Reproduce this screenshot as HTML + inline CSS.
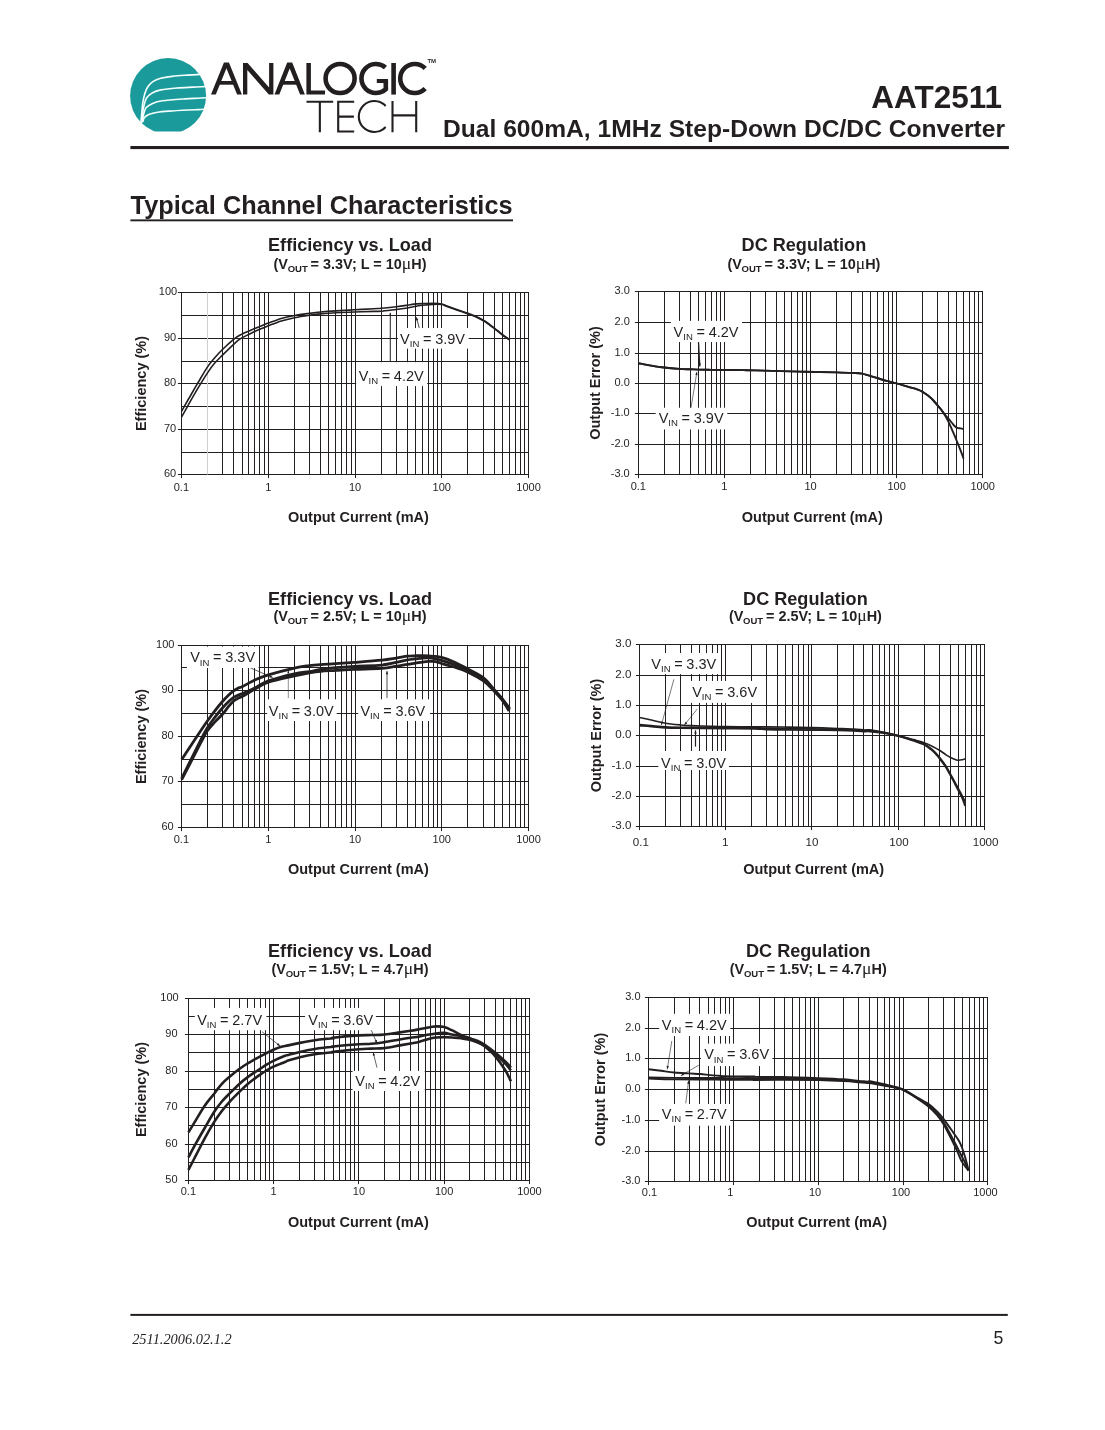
<!DOCTYPE html>
<html lang="en">
<head>
<meta charset="utf-8">
<title>AAT2511 - Typical Channel Characteristics</title>
<style>
html,body{margin:0;padding:0;background:#fff;}
body{width:1105px;height:1430px;overflow:hidden;font-family:"Liberation Sans",sans-serif;color:#231f20;}
svg{display:block;position:absolute;left:0;top:0;will-change:transform;}
text{fill:#231f20;}
</style>
</head>
<body>
<svg width="1105" height="1430" viewBox="0 0 1105 1430">
<g id="logo">
<clipPath id="discclip"><rect x="120" y="50" width="100" height="81.4"/></clipPath>
<circle cx="168.1" cy="96" r="38" fill="#1a9a9b" clip-path="url(#discclip)"/>
<clipPath id="discclip2"><circle cx="168.1" cy="96" r="38.6"/></clipPath>
<g fill="none" stroke="#f4ffff" stroke-width="1.6" stroke-linecap="butt" clip-path="url(#discclip2)">
<path d="M140.85,123.63 C140.99,122.08 141.34,117.79 141.66,114.34 C141.99,110.89 142.29,106.39 142.81,102.94 C143.32,99.49 143.89,96.40 144.76,93.66 C145.63,90.91 146.66,88.50 148.02,86.49 C149.38,84.48 150.79,82.96 152.90,81.60 C155.02,80.24 157.52,79.21 160.72,78.34 C163.93,77.47 168.05,76.90 172.13,76.39 C176.20,75.87 180.49,75.57 185.16,75.25 C189.83,74.92 197.65,74.57 200.14,74.43"/>
<path d="M141.50,122.98 C141.72,121.13 142.32,115.10 142.81,111.90 C143.29,108.70 143.76,106.14 144.43,103.75 C145.11,101.37 145.52,99.41 146.88,97.56 C148.23,95.72 150.27,93.95 152.58,92.68 C154.89,91.40 156.65,90.70 160.72,89.91 C164.80,89.12 171.58,88.42 177.01,87.95 C182.44,87.49 188.42,87.38 193.30,87.14 C198.19,86.90 204.16,86.60 206.33,86.49"/>
<path d="M142.15,122.32 C142.40,120.99 142.97,116.76 143.62,114.34 C144.27,111.93 144.57,109.65 146.06,107.83 C147.56,106.01 149.86,104.60 152.58,103.43 C155.29,102.26 156.92,101.58 162.35,100.82 C167.78,100.06 179.18,99.30 185.16,98.87 C191.13,98.43 194.52,98.43 198.19,98.22 C201.85,98.00 205.65,97.67 207.15,97.56"/>
<path d="M142.97,121.67 C143.21,120.99 143.38,118.82 144.43,117.60 C145.49,116.38 147.15,115.24 149.32,114.34 C151.49,113.45 154.21,112.77 157.47,112.23 C160.72,111.68 163.71,111.46 168.87,111.08 C174.03,110.70 183.53,110.19 188.42,109.94 C193.30,109.70 195.47,109.73 198.19,109.62 C200.90,109.51 203.62,109.35 204.70,109.29"/>
</g>
<g fill="#231f20" stroke="none">
<path d="M211.00,94.6 L223.95,62.6 L228.95,62.6 L241.90,94.6 L237.10,94.6 L226.45,68.28 L215.80,94.6 Z"/>
<rect x="218.81" y="81.0" width="15.29" height="3.70"/>
<path d="M243.0,94.6 L243.0,63.0 L247.6,63.0 L269.09999999999997,87.6 L269.09999999999997,63.0 L273.4,63.0 L273.4,94.6 L268.79999999999995,94.6 L247.3,70.0 L247.3,94.6 Z"/>
<path d="M274.50,94.6 L287.20,62.6 L292.20,62.6 L304.90,94.6 L300.10,94.6 L289.70,68.40 L279.30,94.6 Z"/>
<rect x="282.23" y="81.0" width="14.94" height="3.70"/>
<path d="M306.4,63.0 L310.9,63.0 L310.9,90.6 L325.0,90.6 L325.0,94.6 L306.4,94.6 Z"/>
<rect x="391.3" y="63.0" width="4.6" height="31.60"/>
</g>
<g fill="none" stroke="#231f20" stroke-width="4.6">
<circle cx="340.1" cy="78.5" r="14.5"/>
<path d="M385.46,67.56 A14.5,14.5 0 1 0 385.93,89.02 L385.80,87.02 L385.80,81.00" stroke-linejoin="round"/>
<path d="M376.80,81.00 L388.05,81.00" stroke-width="4.0"/>
<path d="M425.18,68.43 A14.5,14.5 0 1 0 425.18,88.57"/>
</g>
<text x="427.40" y="62.70" font-family="Liberation Sans, sans-serif" font-size="6.0" font-weight="bold" text-anchor="start" >TM</text>
<g fill="none" stroke="#231f20" stroke-width="2.1">
<path d="M306.5,101.75 L333.2,101.75 M319.85,101.75 L319.85,132.2"/>
<path d="M354.2,101.75 L338.2,101.75 L338.2,131.45 L354.2,131.45 M338.2,116.6 L353.9,116.6"/>
<path d="M385.64,105.93 A15.5,15.5 0 1 0 385.64,127.07"/>
<path d="M392.5,101.0 L392.5,132.2 M416.2,101.0 L416.2,132.2 M392.5,115.4 L416.2,115.4"/>
</g>
</g>
<text x="1002.00" y="108.30" font-family="Liberation Sans, sans-serif" font-size="31.5" font-weight="bold" text-anchor="end" >AAT2511</text>
<text x="1005.00" y="137.30" font-family="Liberation Sans, sans-serif" font-size="24.62" font-weight="bold" text-anchor="end" >Dual 600mA, 1MHz Step-Down DC/DC Converter</text>
<rect x="130.4" y="146.0" width="878.5" height="3.1" fill="#231f20"/>
<text x="130.60" y="214.00" font-family="Liberation Sans, sans-serif" font-size="25.3" font-weight="bold" text-anchor="start" >Typical Channel Characteristics</text>
<rect x="130.4" y="219.4" width="382.6" height="1.9" fill="#231f20"/>
<rect x="130.4" y="1313.9" width="877.4" height="2.0" fill="#231f20"/>
<text x="132.20" y="1343.60" font-family="Liberation Serif, sans-serif" font-size="14.36" font-weight="normal" text-anchor="start" font-style="italic" >2511.2006.02.1.2</text>
<text x="1003.40" y="1343.90" font-family="Liberation Sans, sans-serif" font-size="17.7" font-weight="normal" text-anchor="end" >5</text>
<g>
<path d="M181.5,292.0V475.0M222.5,292.0V475.0M233.5,292.0V475.0M242.5,292.0V475.0M248.5,292.0V475.0M254.5,292.0V475.0M259.5,292.0V475.0M264.5,292.0V475.0M268.5,292.0V475.0M294.5,292.0V475.0M309.5,292.0V475.0M320.5,292.0V475.0M328.5,292.0V475.0M335.5,292.0V475.0M341.5,292.0V475.0M346.5,292.0V475.0M351.5,292.0V475.0M355.5,292.0V475.0M381.5,292.0V475.0M396.5,292.0V475.0M407.5,292.0V475.0M415.5,292.0V475.0M422.5,292.0V475.0M428.5,292.0V475.0M433.5,292.0V475.0M437.5,292.0V475.0M441.5,292.0V475.0M467.5,292.0V475.0M483.5,292.0V475.0M494.5,292.0V475.0M502.5,292.0V475.0M509.5,292.0V475.0M515.5,292.0V475.0M520.5,292.0V475.0M524.5,292.0V475.0M528.5,292.0V475.0M181.0,292.5H529.0M181.0,315.5H529.0M181.0,338.5H529.0M181.0,361.5H529.0M181.0,383.5H529.0M181.0,406.5H529.0M181.0,429.5H529.0M181.0,452.5H529.0M181.0,474.5H529.0" fill="none" stroke="#231f20" stroke-width="1.0"/>
<path d="M207.5,292.5V474.5" stroke="#cfcfcf" stroke-width="1" fill="none"/>
<path d="M177.9,292.5H181.5M177.9,338.5H181.5M177.9,383.5H181.5M177.9,429.5H181.5M177.9,474.5H181.5M181.5,474.5V478.1M268.5,474.5V478.1M355.5,474.5V478.1M441.5,474.5V478.1M528.5,474.5V478.1" fill="none" stroke="#231f20" stroke-width="1.0"/>
<text x="177.15" y="295.10" font-family="Liberation Sans, sans-serif" font-size="11.0" font-weight="normal" text-anchor="end" >100</text>
<text x="176.15" y="341.10" font-family="Liberation Sans, sans-serif" font-size="11.0" font-weight="normal" text-anchor="end" >90</text>
<text x="176.15" y="386.10" font-family="Liberation Sans, sans-serif" font-size="11.0" font-weight="normal" text-anchor="end" >80</text>
<text x="176.15" y="432.10" font-family="Liberation Sans, sans-serif" font-size="11.0" font-weight="normal" text-anchor="end" >70</text>
<text x="176.15" y="477.10" font-family="Liberation Sans, sans-serif" font-size="11.0" font-weight="normal" text-anchor="end" >60</text>
<text x="181.40" y="491.20" font-family="Liberation Sans, sans-serif" font-size="11.0" font-weight="normal" text-anchor="middle" >0.1</text>
<text x="268.20" y="491.20" font-family="Liberation Sans, sans-serif" font-size="11.0" font-weight="normal" text-anchor="middle" >1</text>
<text x="355.00" y="491.20" font-family="Liberation Sans, sans-serif" font-size="11.0" font-weight="normal" text-anchor="middle" >10</text>
<text x="441.80" y="491.20" font-family="Liberation Sans, sans-serif" font-size="11.0" font-weight="normal" text-anchor="middle" >100</text>
<text x="528.60" y="491.20" font-family="Liberation Sans, sans-serif" font-size="11.0" font-weight="normal" text-anchor="middle" >1000</text>
<text x="350.00" y="250.70" font-family="Liberation Sans, sans-serif" font-size="18.1" font-weight="bold" text-anchor="middle" >Efficiency vs. Load</text>
<text x="350.00" y="268.90" font-family="Liberation Sans, sans-serif" font-size="14.45" font-weight="bold" text-anchor="middle">(V<tspan font-size="9.54" dy="2.8" dx="-0.3">OUT</tspan><tspan dy="-2.8" dx="-1.2"> = 3.3V; L = 10</tspan><tspan font-family="Liberation Serif, serif" font-weight="normal" font-size="17.63">μ</tspan>H)</text>
<text x="358.40" y="521.80" font-family="Liberation Sans, sans-serif" font-size="14.5" font-weight="bold" text-anchor="middle" >Output Current (mA)</text>
<text transform="translate(145.70,383.50) rotate(-90)" font-family="Liberation Sans, sans-serif" font-size="14.5" font-weight="bold" text-anchor="middle">Efficiency (%)</text>
</g>
<g fill="none" stroke="#231f20" stroke-width="1.6" stroke-linejoin="round" stroke-linecap="butt">
<path d="M181.50,411.30 C183.13,408.46 188.39,399.27 191.29,394.25 C194.19,389.24 196.21,385.75 198.89,381.22 C201.57,376.70 204.83,370.90 207.36,367.10 C209.90,363.30 211.58,361.35 214.10,358.42 C216.61,355.48 219.20,352.68 222.46,349.51 C225.71,346.34 230.69,341.82 233.64,339.41 C236.59,337.00 237.48,336.52 240.16,335.07 C242.84,333.62 246.37,332.17 249.71,330.72 C253.06,329.28 257.14,327.65 260.25,326.38 C263.36,325.11 264.89,324.44 268.39,323.12 C271.90,321.80 276.93,319.72 281.29,318.45 C285.65,317.19 289.83,316.37 294.54,315.52 C299.24,314.67 305.18,313.93 309.52,313.35 C313.87,312.77 316.20,312.46 320.60,312.05 C325.00,311.63 330.25,311.23 335.91,310.85 C341.58,310.47 348.31,310.13 354.59,309.76 C360.87,309.40 369.13,308.93 373.60,308.68 C378.06,308.43 377.61,308.55 381.39,308.24 C385.17,307.94 391.92,307.34 396.27,306.83 C400.61,306.33 404.56,305.66 407.45,305.20 C410.35,304.75 411.07,304.39 413.64,304.12 C416.21,303.85 419.49,303.72 422.87,303.57 C426.26,303.43 430.78,303.18 433.95,303.25 C437.12,303.32 439.82,303.59 441.88,304.01 C443.93,304.43 444.65,305.13 446.29,305.75 C447.93,306.36 448.15,306.47 451.72,307.70 C455.29,308.93 463.70,311.72 467.68,313.13 C471.67,314.54 472.99,315.00 475.61,316.17 C478.24,317.35 481.08,318.80 483.43,320.19 C485.78,321.58 487.95,323.27 489.73,324.53 C491.50,325.80 492.44,326.52 494.07,327.79 C495.70,329.06 497.69,330.69 499.50,332.14 C501.31,333.58 503.27,335.27 504.93,336.48 C506.60,337.69 508.73,338.92 509.49,339.41"/>
<path d="M181.50,417.20 C182.23,415.91 184.23,412.38 185.86,409.46 C187.49,406.54 189.12,403.48 191.29,399.68 C193.46,395.88 196.21,391.09 198.89,386.65 C201.57,382.22 204.83,376.88 207.36,373.08 C209.90,369.28 211.58,366.83 214.10,363.85 C216.61,360.86 219.20,358.42 222.46,355.16 C225.71,351.90 230.69,347.01 233.64,344.30 C236.59,341.58 237.48,340.59 240.16,338.87 C242.84,337.15 246.37,335.61 249.71,333.98 C253.06,332.35 257.14,330.45 260.25,329.10 C263.36,327.74 264.89,327.19 268.39,325.84 C271.90,324.48 276.93,322.31 281.29,320.95 C285.65,319.59 289.83,318.65 294.54,317.69 C299.24,316.73 305.18,315.83 309.52,315.19 C313.87,314.56 316.20,314.31 320.60,313.89 C325.00,313.48 330.25,313.00 335.91,312.70 C341.58,312.39 348.31,312.26 354.59,312.05 C360.87,311.83 369.13,311.54 373.60,311.39 C378.06,311.25 377.61,311.48 381.39,311.18 C385.17,310.87 391.92,310.09 396.27,309.55 C400.61,309.00 404.19,308.46 407.45,307.92 C410.71,307.38 413.24,306.74 415.81,306.29 C418.38,305.84 419.85,305.53 422.87,305.20 C425.90,304.88 430.78,304.44 433.95,304.33 C437.12,304.23 439.82,304.23 441.88,304.55 C443.93,304.88 444.65,305.67 446.29,306.29 C447.93,306.90 448.15,307.01 451.72,308.24 C455.29,309.48 463.70,312.26 467.68,313.67 C471.67,315.09 472.99,315.54 475.61,316.71 C478.24,317.89 481.08,319.34 483.43,320.73 C485.78,322.13 487.95,323.81 489.73,325.08 C491.50,326.34 492.44,327.07 494.07,328.33 C495.70,329.60 497.69,331.25 499.50,332.68 C501.31,334.11 503.30,335.76 504.93,336.91 C506.56,338.07 508.55,339.18 509.28,339.63"/>
</g>
<path d="M419.94,330.72L416.36,317.15" stroke="#231f20" stroke-width="0.8" fill="none"/>
<path d="M416.36,317.15L418.33,319.94L416.01,320.55Z" fill="#231f20"/>
<path d="M390.29,362.22L390.29,312.81" stroke="#231f20" stroke-width="1.0" fill="none"/>
<path d="M390.29,312.81L391.49,316.01L389.09,316.01Z" fill="#231f20"/>
<rect x="397.90" y="328.01" width="70.70" height="20.63" fill="#fff"/>
<text x="400.10" y="343.80" font-family="Liberation Sans, sans-serif" font-size="14.5" word-spacing="-0.35">V<tspan font-size="9.57" dy="3.3">IN</tspan><tspan dy="-3.3"> = 3.9V</tspan></text>
<rect x="356.20" y="362.20" width="71.02" height="23.91" fill="#fff"/>
<text x="358.80" y="380.70" font-family="Liberation Sans, sans-serif" font-size="14.5" word-spacing="-0.35">V<tspan font-size="9.57" dy="3.3">IN</tspan><tspan dy="-3.3"> = 4.2V</tspan></text>
<g>
<path d="M638.5,291.0V475.0M664.5,291.0V475.0M679.5,291.0V475.0M690.5,291.0V475.0M698.5,291.0V475.0M705.5,291.0V475.0M711.5,291.0V475.0M716.5,291.0V475.0M720.5,291.0V475.0M724.5,291.0V475.0M750.5,291.0V475.0M765.5,291.0V475.0M776.5,291.0V475.0M784.5,291.0V475.0M791.5,291.0V475.0M797.5,291.0V475.0M802.5,291.0V475.0M806.5,291.0V475.0M810.5,291.0V475.0M836.5,291.0V475.0M851.5,291.0V475.0M862.5,291.0V475.0M870.5,291.0V475.0M877.5,291.0V475.0M883.5,291.0V475.0M888.5,291.0V475.0M892.5,291.0V475.0M896.5,291.0V475.0M922.5,291.0V475.0M937.5,291.0V475.0M948.5,291.0V475.0M956.5,291.0V475.0M963.5,291.0V475.0M969.5,291.0V475.0M974.5,291.0V475.0M978.5,291.0V475.0M982.5,291.0V475.0M638.0,291.5H983.0M638.0,322.5H983.0M638.0,353.5H983.0M638.0,383.5H983.0M638.0,413.5H983.0M638.0,444.5H983.0M638.0,474.5H983.0" fill="none" stroke="#231f20" stroke-width="1.0"/>
<path d="M634.9,291.5H638.5M634.9,322.5H638.5M634.9,353.5H638.5M634.9,383.5H638.5M634.9,413.5H638.5M634.9,444.5H638.5M634.9,474.5H638.5M638.5,474.5V478.1M724.5,474.5V478.1M810.5,474.5V478.1M896.5,474.5V478.1M982.5,474.5V478.1" fill="none" stroke="#231f20" stroke-width="1.0"/>
<text x="629.75" y="294.10" font-family="Liberation Sans, sans-serif" font-size="11.0" font-weight="normal" text-anchor="end" >3.0</text>
<text x="629.75" y="325.10" font-family="Liberation Sans, sans-serif" font-size="11.0" font-weight="normal" text-anchor="end" >2.0</text>
<text x="629.75" y="356.10" font-family="Liberation Sans, sans-serif" font-size="11.0" font-weight="normal" text-anchor="end" >1.0</text>
<text x="629.75" y="386.10" font-family="Liberation Sans, sans-serif" font-size="11.0" font-weight="normal" text-anchor="end" >0.0</text>
<text x="629.75" y="416.10" font-family="Liberation Sans, sans-serif" font-size="11.0" font-weight="normal" text-anchor="end" >-1.0</text>
<text x="629.75" y="447.10" font-family="Liberation Sans, sans-serif" font-size="11.0" font-weight="normal" text-anchor="end" >-2.0</text>
<text x="629.75" y="477.10" font-family="Liberation Sans, sans-serif" font-size="11.0" font-weight="normal" text-anchor="end" >-3.0</text>
<text x="638.30" y="490.20" font-family="Liberation Sans, sans-serif" font-size="11.0" font-weight="normal" text-anchor="middle" >0.1</text>
<text x="724.40" y="490.20" font-family="Liberation Sans, sans-serif" font-size="11.0" font-weight="normal" text-anchor="middle" >1</text>
<text x="810.50" y="490.20" font-family="Liberation Sans, sans-serif" font-size="11.0" font-weight="normal" text-anchor="middle" >10</text>
<text x="896.60" y="490.20" font-family="Liberation Sans, sans-serif" font-size="11.0" font-weight="normal" text-anchor="middle" >100</text>
<text x="982.70" y="490.20" font-family="Liberation Sans, sans-serif" font-size="11.0" font-weight="normal" text-anchor="middle" >1000</text>
<text x="803.90" y="250.90" font-family="Liberation Sans, sans-serif" font-size="18.1" font-weight="bold" text-anchor="middle" >DC Regulation</text>
<text x="803.90" y="268.80" font-family="Liberation Sans, sans-serif" font-size="14.45" font-weight="bold" text-anchor="middle">(V<tspan font-size="9.54" dy="2.8" dx="-0.3">OUT</tspan><tspan dy="-2.8" dx="-1.2"> = 3.3V; L = 10</tspan><tspan font-family="Liberation Serif, serif" font-weight="normal" font-size="17.63">μ</tspan>H)</text>
<text x="812.30" y="522.10" font-family="Liberation Sans, sans-serif" font-size="14.5" font-weight="bold" text-anchor="middle" >Output Current (mA)</text>
<text transform="translate(599.70,383.00) rotate(-90)" font-family="Liberation Sans, sans-serif" font-size="14.5" font-weight="bold" text-anchor="middle">Output Error (%)</text>
</g>
<g fill="none" stroke="#231f20" stroke-width="1.9" stroke-linejoin="round" stroke-linecap="butt">
<path d="M638.48,363.21 C640.61,363.61 646.98,364.88 651.29,365.60 C655.60,366.33 659.65,367.01 664.32,367.56 C668.99,368.10 674.96,368.57 679.31,368.86 C683.65,369.15 687.18,369.17 690.38,369.29 C693.59,369.42 695.09,369.53 698.53,369.62 C701.97,369.71 706.67,369.78 711.02,369.84 C715.36,369.89 719.16,369.89 724.59,369.95 C730.02,370.00 738.53,370.09 743.60,370.16 C748.67,370.24 745.60,370.14 755.00,370.38 C764.40,370.62 786.43,371.26 800.00,371.60 C813.57,371.94 827.77,372.18 836.40,372.40 C845.03,372.62 847.53,372.70 851.80,372.90 C856.07,373.10 857.99,372.80 862.00,373.60 C866.01,374.40 871.74,376.47 875.86,377.69 C879.98,378.92 883.28,379.99 886.72,380.95 C890.16,381.91 892.87,382.45 896.49,383.45 C900.11,384.44 905.00,385.93 908.44,386.92 C911.88,387.92 914.77,388.61 917.13,389.42 C919.48,390.24 920.75,390.78 922.56,391.81 C924.37,392.84 926.18,394.16 927.99,395.61 C929.80,397.06 931.82,398.87 933.42,400.50 C935.01,402.13 936.28,403.88 937.54,405.38 C938.81,406.89 939.90,408.06 941.02,409.51 C942.14,410.96 943.05,412.55 944.28,414.07 C945.51,415.59 947.14,417.19 948.40,418.63 C949.67,420.08 950.76,421.44 951.88,422.76 C953.00,424.08 954.23,425.69 955.14,426.56 C956.04,427.43 956.40,427.67 957.31,427.97 C958.21,428.28 959.52,428.23 960.57,428.41 C961.62,428.59 963.10,428.95 963.61,429.06"/>
<path d="M638.48,363.21 C640.61,363.61 646.98,364.88 651.29,365.60 C655.60,366.33 659.65,367.01 664.32,367.56 C668.99,368.10 674.96,368.57 679.31,368.86 C683.65,369.15 687.18,369.17 690.38,369.29 C693.59,369.42 695.09,369.53 698.53,369.62 C701.97,369.71 706.67,369.78 711.02,369.84 C715.36,369.89 719.16,369.89 724.59,369.95 C730.02,370.00 738.53,370.09 743.60,370.16 C748.67,370.24 745.60,370.14 755.00,370.38 C764.40,370.62 786.43,371.26 800.00,371.60 C813.57,371.94 827.77,372.18 836.40,372.40 C845.03,372.62 847.53,372.70 851.80,372.90 C856.07,373.10 857.99,372.80 862.00,373.60 C866.01,374.40 871.74,376.47 875.86,377.69 C879.98,378.92 883.28,379.99 886.72,380.95 C890.16,381.91 892.87,382.45 896.49,383.45 C900.11,384.44 905.00,385.93 908.44,386.92 C911.88,387.92 914.77,388.61 917.13,389.42 C919.48,390.24 920.75,390.78 922.56,391.81 C924.37,392.84 926.18,394.16 927.99,395.61 C929.80,397.06 931.82,398.87 933.42,400.50 C935.01,402.13 936.28,403.88 937.54,405.38 C938.81,406.89 939.90,408.06 941.02,409.51 C942.14,410.96 943.05,412.05 944.28,414.07 C945.51,416.10 947.14,419.14 948.40,421.67 C949.67,424.21 950.76,426.74 951.88,429.28 C953.00,431.81 954.23,434.71 955.14,436.88 C956.04,439.05 956.40,440.05 957.31,442.31 C958.21,444.57 959.52,447.74 960.57,450.45 C961.62,453.17 963.10,457.24 963.61,458.60"/>
</g>
<path d="M698.53,342.58L699.83,366.47" stroke="#231f20" stroke-width="1.3" fill="none"/>
<path d="M699.83,366.47L698.46,363.34L700.86,363.21Z" fill="#231f20"/>
<path d="M690.93,408.28L696.90,371.90" stroke="#231f20" stroke-width="0.6" fill="none"/>
<path d="M696.90,371.90L697.57,375.25L695.20,374.86Z" fill="#231f20"/>
<rect x="670.84" y="320.86" width="71.13" height="21.18" fill="#fff"/>
<text x="673.60" y="336.60" font-family="Liberation Sans, sans-serif" font-size="14.5" word-spacing="-0.35">V<tspan font-size="9.57" dy="3.3">IN</tspan><tspan dy="-3.3"> = 4.2V</tspan></text>
<rect x="655.63" y="407.74" width="71.67" height="21.72" fill="#fff"/>
<text x="658.70" y="422.90" font-family="Liberation Sans, sans-serif" font-size="14.5" word-spacing="-0.35">V<tspan font-size="9.57" dy="3.3">IN</tspan><tspan dy="-3.3"> = 3.9V</tspan></text>
<g>
<path d="M181.5,645.0V828.0M207.5,645.0V828.0M222.5,645.0V828.0M233.5,645.0V828.0M242.5,645.0V828.0M248.5,645.0V828.0M254.5,645.0V828.0M259.5,645.0V828.0M264.5,645.0V828.0M268.5,645.0V828.0M294.5,645.0V828.0M309.5,645.0V828.0M320.5,645.0V828.0M328.5,645.0V828.0M335.5,645.0V828.0M341.5,645.0V828.0M346.5,645.0V828.0M351.5,645.0V828.0M355.5,645.0V828.0M381.5,645.0V828.0M396.5,645.0V828.0M407.5,645.0V828.0M415.5,645.0V828.0M422.5,645.0V828.0M428.5,645.0V828.0M433.5,645.0V828.0M437.5,645.0V828.0M441.5,645.0V828.0M467.5,645.0V828.0M483.5,645.0V828.0M494.5,645.0V828.0M502.5,645.0V828.0M509.5,645.0V828.0M515.5,645.0V828.0M520.5,645.0V828.0M524.5,645.0V828.0M528.5,645.0V828.0M181.0,645.5H529.0M181.0,667.5H529.0M181.0,690.5H529.0M181.0,713.5H529.0M181.0,736.5H529.0M181.0,759.5H529.0M181.0,781.5H529.0M181.0,804.5H529.0M181.0,827.5H529.0" fill="none" stroke="#231f20" stroke-width="1.0"/>
<path d="M177.9,645.5H181.5M177.9,690.5H181.5M177.9,736.5H181.5M177.9,781.5H181.5M177.9,827.5H181.5M181.5,827.5V831.1M268.5,827.5V831.1M355.5,827.5V831.1M441.5,827.5V831.1M528.5,827.5V831.1" fill="none" stroke="#231f20" stroke-width="1.0"/>
<text x="174.45" y="648.10" font-family="Liberation Sans, sans-serif" font-size="11.0" font-weight="normal" text-anchor="end" >100</text>
<text x="173.65" y="693.10" font-family="Liberation Sans, sans-serif" font-size="11.0" font-weight="normal" text-anchor="end" >90</text>
<text x="173.65" y="739.10" font-family="Liberation Sans, sans-serif" font-size="11.0" font-weight="normal" text-anchor="end" >80</text>
<text x="173.65" y="784.10" font-family="Liberation Sans, sans-serif" font-size="11.0" font-weight="normal" text-anchor="end" >70</text>
<text x="173.65" y="830.10" font-family="Liberation Sans, sans-serif" font-size="11.0" font-weight="normal" text-anchor="end" >60</text>
<text x="181.40" y="843.20" font-family="Liberation Sans, sans-serif" font-size="11.0" font-weight="normal" text-anchor="middle" >0.1</text>
<text x="268.20" y="843.20" font-family="Liberation Sans, sans-serif" font-size="11.0" font-weight="normal" text-anchor="middle" >1</text>
<text x="355.00" y="843.20" font-family="Liberation Sans, sans-serif" font-size="11.0" font-weight="normal" text-anchor="middle" >10</text>
<text x="441.80" y="843.20" font-family="Liberation Sans, sans-serif" font-size="11.0" font-weight="normal" text-anchor="middle" >100</text>
<text x="528.60" y="843.20" font-family="Liberation Sans, sans-serif" font-size="11.0" font-weight="normal" text-anchor="middle" >1000</text>
<text x="350.00" y="604.70" font-family="Liberation Sans, sans-serif" font-size="18.1" font-weight="bold" text-anchor="middle" >Efficiency vs. Load</text>
<text x="350.00" y="621.00" font-family="Liberation Sans, sans-serif" font-size="14.45" font-weight="bold" text-anchor="middle">(V<tspan font-size="9.54" dy="2.8" dx="-0.3">OUT</tspan><tspan dy="-2.8" dx="-1.2"> = 2.5V; L = 10</tspan><tspan font-family="Liberation Serif, serif" font-weight="normal" font-size="17.63">μ</tspan>H)</text>
<text x="358.40" y="873.90" font-family="Liberation Sans, sans-serif" font-size="14.5" font-weight="bold" text-anchor="middle" >Output Current (mA)</text>
<text transform="translate(145.70,736.50) rotate(-90)" font-family="Liberation Sans, sans-serif" font-size="14.5" font-weight="bold" text-anchor="middle">Efficiency (%)</text>
</g>
<g fill="none" stroke="#231f20" stroke-width="2.8" stroke-linejoin="round" stroke-linecap="butt">
<path d="M181.70,759.50 C184.20,755.71 192.44,743.18 196.72,736.76 C201.00,730.35 204.38,725.31 207.36,721.02 C210.35,716.73 212.12,714.29 214.64,711.03 C217.15,707.77 220.16,704.11 222.46,701.47 C224.76,698.83 226.57,696.95 228.43,695.17 C230.29,693.40 232.05,691.99 233.64,690.83 C235.24,689.67 236.50,688.95 237.99,688.22 C239.47,687.50 239.65,687.90 242.55,686.48 C245.44,685.07 251.05,681.69 255.36,679.75 C259.67,677.81 261.90,676.82 268.39,674.86 C274.89,672.91 287.50,669.56 294.32,668.02 C301.14,666.48 304.93,666.21 309.31,665.63 C313.69,665.05 316.22,664.87 320.60,664.55 C324.98,664.22 329.92,664.04 335.59,663.68 C341.25,663.32 346.96,662.95 354.59,662.38 C362.23,661.80 374.44,660.93 381.39,660.20 C388.33,659.48 391.92,658.70 396.27,658.03 C400.61,657.36 404.26,656.56 407.45,656.19 C410.65,655.81 412.93,655.89 415.43,655.78 C417.93,655.68 420.28,655.57 422.45,655.57 C424.62,655.57 426.62,655.66 428.46,655.78 C430.31,655.90 431.36,656.02 433.53,656.29 C435.70,656.56 438.17,656.47 441.49,657.38 C444.81,658.28 449.10,659.81 453.44,661.72 C457.78,663.63 462.55,666.12 467.56,668.81 C472.56,671.51 479.06,674.41 483.48,677.86 C487.90,681.32 490.86,685.95 494.07,689.52 C497.29,693.10 500.14,696.08 502.76,699.30 C505.38,702.52 508.64,707.26 509.82,708.86"/>
<path d="M181.70,778.40 C182.94,775.90 185.89,769.86 189.12,763.37 C192.34,756.88 198.02,745.42 201.06,739.48 C204.10,733.54 205.10,731.41 207.36,727.75 C209.62,724.10 212.12,720.84 214.64,717.54 C217.15,714.25 220.16,710.63 222.46,707.99 C224.76,705.34 226.57,703.46 228.43,701.69 C230.29,699.91 232.05,698.43 233.64,697.34 C235.24,696.26 236.50,695.81 237.99,695.17 C239.47,694.54 239.65,694.79 242.55,693.54 C245.44,692.29 251.05,689.80 255.36,687.68 C259.67,685.56 261.90,683.15 268.39,680.84 C274.89,678.52 287.50,675.32 294.32,673.78 C301.14,672.24 304.93,672.35 309.31,671.61 C313.69,670.86 316.22,670.00 320.60,669.33 C324.98,668.66 329.92,668.10 335.59,667.59 C341.25,667.08 346.96,666.70 354.59,666.29 C362.23,665.87 374.44,665.74 381.39,665.09 C388.33,664.44 391.92,663.23 396.27,662.38 C400.61,661.52 404.26,660.55 407.45,659.99 C410.65,659.42 412.93,659.28 415.43,658.97 C417.93,658.65 420.28,658.27 422.45,658.10 C424.62,657.93 426.62,657.89 428.46,657.95 C430.31,658.02 431.36,658.05 433.53,658.46 C435.70,658.87 438.17,659.45 441.49,660.42 C444.81,661.38 449.10,662.59 453.44,664.25 C457.78,665.92 462.55,667.87 467.56,670.41 C472.56,672.94 479.06,676.14 483.48,679.46 C487.90,682.77 490.86,686.85 494.07,690.29 C497.29,693.72 500.19,696.78 502.76,700.06 C505.33,703.33 508.37,708.29 509.49,709.94"/>
<path d="M181.70,779.60 C182.94,777.22 185.89,771.56 189.12,765.33 C192.34,759.09 198.02,747.95 201.06,742.19 C204.10,736.44 205.10,734.14 207.36,730.79 C209.62,727.44 212.12,724.86 214.64,722.10 C217.15,719.35 220.16,716.86 222.46,714.29 C224.76,711.71 226.57,708.89 228.43,706.68 C230.29,704.48 232.05,702.43 233.64,701.04 C235.24,699.64 236.50,699.12 237.99,698.32 C239.47,697.52 239.65,697.83 242.55,696.26 C245.44,694.68 251.05,691.23 255.36,688.87 C259.67,686.52 261.90,684.29 268.39,682.14 C274.89,679.99 287.50,677.49 294.32,675.95 C301.14,674.41 304.93,673.69 309.31,672.91 C313.69,672.13 316.22,671.70 320.60,671.28 C324.98,670.86 329.92,670.74 335.59,670.41 C341.25,670.09 346.96,669.67 354.59,669.33 C362.23,668.98 374.44,668.87 381.39,668.35 C388.33,667.82 391.92,666.85 396.27,666.18 C400.61,665.51 404.26,664.83 407.45,664.33 C410.65,663.83 412.93,663.54 415.43,663.17 C417.93,662.79 420.28,662.37 422.45,662.08 C424.62,661.79 426.62,661.54 428.46,661.43 C430.31,661.32 432.02,661.32 433.53,661.43 C435.04,661.54 436.18,661.73 437.51,662.08 C438.84,662.43 438.84,662.75 441.49,663.53 C444.15,664.31 449.10,665.39 453.44,666.79 C457.78,668.19 462.55,669.56 467.56,671.93 C472.56,674.29 479.06,677.79 483.48,680.98 C487.90,684.16 490.86,687.74 494.07,691.05 C497.29,694.35 500.26,697.49 502.76,700.82 C505.26,704.15 508.01,709.33 509.06,711.03"/>
</g>
<path d="M247.76,666.72L272.74,677.58" stroke="#231f20" stroke-width="0.7" fill="none"/>
<path d="M272.74,677.58L269.32,677.40L270.28,675.20Z" fill="#231f20"/>
<path d="M288.30,698.00L288.30,670.00" stroke="#231f20" stroke-width="0.5" fill="none"/>
<path d="M288.30,670.00L289.20,673.20L287.40,673.20Z" fill="#231f20"/>
<path d="M387.00,698.00L387.00,671.10" stroke="#231f20" stroke-width="0.8" fill="none"/>
<path d="M387.00,671.10L388.20,674.30L385.80,674.30Z" fill="#231f20"/>
<rect x="186.95" y="646.63" width="71.67" height="21.39" fill="#fff"/>
<text x="190.20" y="662.40" font-family="Liberation Sans, sans-serif" font-size="14.5" word-spacing="-0.35">V<tspan font-size="9.57" dy="3.3">IN</tspan><tspan dy="-3.3"> = 3.3V</tspan></text>
<rect x="267.17" y="699.30" width="69.50" height="21.72" fill="#fff"/>
<text x="268.80" y="715.60" font-family="Liberation Sans, sans-serif" font-size="14.5" word-spacing="-0.35">V<tspan font-size="9.57" dy="3.3">IN</tspan><tspan dy="-3.3"> = 3.0V</tspan></text>
<rect x="358.26" y="699.30" width="71.67" height="21.72" fill="#fff"/>
<text x="360.40" y="715.60" font-family="Liberation Sans, sans-serif" font-size="14.5" word-spacing="-0.35">V<tspan font-size="9.57" dy="3.3">IN</tspan><tspan dy="-3.3"> = 3.6V</tspan></text>
<g>
<path d="M639.5,644.0V827.0M665.5,644.0V827.0M680.5,644.0V827.0M691.5,644.0V827.0M699.5,644.0V827.0M706.5,644.0V827.0M712.5,644.0V827.0M717.5,644.0V827.0M721.5,644.0V827.0M725.5,644.0V827.0M751.5,644.0V827.0M766.5,644.0V827.0M777.5,644.0V827.0M785.5,644.0V827.0M792.5,644.0V827.0M798.5,644.0V827.0M803.5,644.0V827.0M808.5,644.0V827.0M811.5,644.0V827.0M837.5,644.0V827.0M853.5,644.0V827.0M863.5,644.0V827.0M872.5,644.0V827.0M879.5,644.0V827.0M884.5,644.0V827.0M889.5,644.0V827.0M894.5,644.0V827.0M898.5,644.0V827.0M924.5,644.0V827.0M939.5,644.0V827.0M950.5,644.0V827.0M958.5,644.0V827.0M965.5,644.0V827.0M971.5,644.0V827.0M976.5,644.0V827.0M980.5,644.0V827.0M984.5,644.0V827.0M639.0,644.5H985.0M639.0,675.5H985.0M639.0,705.5H985.0M639.0,735.5H985.0M639.0,766.5H985.0M639.0,796.5H985.0M639.0,826.5H985.0" fill="none" stroke="#231f20" stroke-width="1.0"/>
<path d="M635.9,644.5H639.5M635.9,675.5H639.5M635.9,705.5H639.5M635.9,735.5H639.5M635.9,766.5H639.5M635.9,796.5H639.5M635.9,826.5H639.5M639.5,826.5V830.1M725.5,826.5V830.1M811.5,826.5V830.1M898.5,826.5V830.1M984.5,826.5V830.1" fill="none" stroke="#231f20" stroke-width="1.0"/>
<text x="631.45" y="647.10" font-family="Liberation Sans, sans-serif" font-size="11.6" font-weight="normal" text-anchor="end" >3.0</text>
<text x="631.45" y="678.10" font-family="Liberation Sans, sans-serif" font-size="11.6" font-weight="normal" text-anchor="end" >2.0</text>
<text x="631.45" y="708.10" font-family="Liberation Sans, sans-serif" font-size="11.6" font-weight="normal" text-anchor="end" >1.0</text>
<text x="631.45" y="738.10" font-family="Liberation Sans, sans-serif" font-size="11.6" font-weight="normal" text-anchor="end" >0.0</text>
<text x="631.45" y="769.10" font-family="Liberation Sans, sans-serif" font-size="11.6" font-weight="normal" text-anchor="end" >-1.0</text>
<text x="631.45" y="799.10" font-family="Liberation Sans, sans-serif" font-size="11.6" font-weight="normal" text-anchor="end" >-2.0</text>
<text x="631.45" y="829.10" font-family="Liberation Sans, sans-serif" font-size="11.6" font-weight="normal" text-anchor="end" >-3.0</text>
<text x="640.80" y="846.10" font-family="Liberation Sans, sans-serif" font-size="11.6" font-weight="normal" text-anchor="middle" >0.1</text>
<text x="725.23" y="846.10" font-family="Liberation Sans, sans-serif" font-size="11.6" font-weight="normal" text-anchor="middle" >1</text>
<text x="811.95" y="846.10" font-family="Liberation Sans, sans-serif" font-size="11.6" font-weight="normal" text-anchor="middle" >10</text>
<text x="898.97" y="846.10" font-family="Liberation Sans, sans-serif" font-size="11.6" font-weight="normal" text-anchor="middle" >100</text>
<text x="985.60" y="846.10" font-family="Liberation Sans, sans-serif" font-size="11.6" font-weight="normal" text-anchor="middle" >1000</text>
<text x="805.40" y="604.70" font-family="Liberation Sans, sans-serif" font-size="18.1" font-weight="bold" text-anchor="middle" >DC Regulation</text>
<text x="805.40" y="621.00" font-family="Liberation Sans, sans-serif" font-size="14.45" font-weight="bold" text-anchor="middle">(V<tspan font-size="9.54" dy="2.8" dx="-0.3">OUT</tspan><tspan dy="-2.8" dx="-1.2"> = 2.5V; L = 10</tspan><tspan font-family="Liberation Serif, serif" font-weight="normal" font-size="17.63">μ</tspan>H)</text>
<text x="813.70" y="873.90" font-family="Liberation Sans, sans-serif" font-size="14.5" font-weight="bold" text-anchor="middle" >Output Current (mA)</text>
<text transform="translate(600.50,735.50) rotate(-90)" font-family="Liberation Sans, sans-serif" font-size="14.5" font-weight="bold" text-anchor="middle">Output Error (%)</text>
</g>
<g fill="none" stroke="#231f20" stroke-width="1.6" stroke-linejoin="round" stroke-linecap="butt">
<path d="M639.56,717.55 C641.52,717.96 647.52,719.21 651.29,720.05 C655.05,720.88 658.89,721.87 662.15,722.54 C665.41,723.21 667.80,723.67 670.84,724.06 C673.88,724.46 676.95,724.68 680.39,724.93 C683.83,725.19 686.37,725.37 691.47,725.58 C696.57,725.80 705.35,726.07 711.02,726.24 C716.68,726.40 718.13,726.45 725.46,726.56 C732.79,726.67 748.12,726.83 755.00,726.89 C761.88,726.95 761.15,726.87 766.72,726.91 C772.29,726.95 780.80,727.02 788.44,727.13 C796.08,727.24 804.35,727.35 812.55,727.57 C820.75,727.78 830.74,728.18 837.63,728.43 C844.53,728.69 849.36,728.83 853.92,729.09 C858.48,729.34 862.32,729.83 865.00,729.95 C867.68,730.08 866.81,729.46 870.00,729.86 C873.19,730.27 879.36,731.40 884.12,732.36 C888.88,733.32 893.67,734.41 898.56,735.62 C903.45,736.83 909.10,738.43 913.44,739.64 C917.78,740.85 921.37,741.72 924.62,742.90 C927.88,744.07 930.45,745.43 932.99,746.70 C935.52,747.96 937.66,749.14 939.83,750.50 C942.00,751.86 944.23,753.67 946.02,754.84 C947.81,756.02 948.95,756.74 950.58,757.56 C952.21,758.37 954.42,759.28 955.79,759.73 C957.17,760.18 957.75,760.27 958.83,760.27 C959.92,760.27 961.19,759.96 962.31,759.73 C963.43,759.49 965.02,759.00 965.57,758.86"/>
</g>
<g fill="none" stroke="#231f20" stroke-width="1.8" stroke-linejoin="round" stroke-linecap="butt">
<path d="M639.56,724.71 C641.52,724.88 646.93,725.33 651.29,725.69 C655.65,726.05 660.88,726.62 665.73,726.89 C670.58,727.16 674.66,727.23 680.39,727.32 C686.13,727.41 692.65,727.39 700.16,727.43 C707.67,727.47 716.32,727.48 725.46,727.54 C734.60,727.59 748.12,727.62 755.00,727.76 C761.88,727.89 761.15,728.19 766.72,728.33 C772.29,728.46 780.80,728.45 788.44,728.54 C796.08,728.63 804.35,728.72 812.55,728.87 C820.75,729.01 830.74,729.23 837.63,729.41 C844.53,729.59 849.36,729.74 853.92,729.95 C858.48,730.17 862.32,730.60 865.00,730.71 C867.68,730.83 866.81,730.28 870.00,730.62 C873.19,730.97 879.36,731.93 884.12,732.80 C888.88,733.67 893.67,734.61 898.56,735.84 C903.45,737.07 909.10,738.77 913.44,740.18 C917.78,741.59 921.73,742.91 924.62,744.31 C927.52,745.70 929.06,747.20 930.81,748.54 C932.57,749.88 933.66,750.81 935.16,752.34 C936.66,753.88 938.02,755.46 939.83,757.77 C941.64,760.09 944.23,763.48 946.02,766.24 C947.81,769.01 948.95,771.46 950.58,774.39 C952.21,777.32 954.42,781.30 955.79,783.84 C957.17,786.37 957.75,787.55 958.83,789.59 C959.92,791.64 961.22,794.03 962.31,796.11 C963.39,798.19 964.84,801.09 965.35,802.08"/>
<path d="M639.56,725.80 C641.52,725.93 646.93,726.24 651.29,726.56 C655.65,726.89 660.88,727.48 665.73,727.76 C670.58,728.03 674.66,728.08 680.39,728.19 C686.13,728.30 692.65,728.35 700.16,728.41 C707.67,728.46 716.32,728.46 725.46,728.52 C734.60,728.57 748.12,728.55 755.00,728.73 C761.88,728.92 761.15,729.44 766.72,729.63 C772.29,729.81 780.80,729.77 788.44,729.85 C796.08,729.92 804.35,729.97 812.55,730.06 C820.75,730.15 830.74,730.26 837.63,730.39 C844.53,730.52 849.36,730.64 853.92,730.82 C858.48,731.00 862.32,731.36 865.00,731.48 C867.68,731.59 866.81,731.20 870.00,731.49 C873.19,731.79 879.36,732.47 884.12,733.23 C888.88,733.99 893.67,734.81 898.56,736.05 C903.45,737.30 909.10,739.24 913.44,740.72 C917.78,742.21 921.73,743.51 924.62,744.96 C927.52,746.41 929.06,748.00 930.81,749.41 C932.57,750.82 933.66,751.86 935.16,753.43 C936.66,755.00 938.02,756.51 939.83,758.86 C941.64,761.21 944.23,764.74 946.02,767.55 C947.81,770.35 948.95,772.71 950.58,775.69 C952.21,778.68 954.42,782.84 955.79,785.47 C957.17,788.09 957.75,789.30 958.83,791.44 C959.92,793.57 961.26,795.87 962.31,798.28 C963.36,800.69 964.66,804.62 965.13,805.88"/>
</g>
<path d="M673.88,679.32L661.39,724.93" stroke="#231f20" stroke-width="0.6" fill="none"/>
<path d="M661.39,724.93L661.08,721.53L663.39,722.16Z" fill="#231f20"/>
<path d="M697.12,709.19L684.41,724.93" stroke="#231f20" stroke-width="0.6" fill="none"/>
<path d="M684.41,724.93L685.49,721.69L687.36,723.20Z" fill="#231f20"/>
<path d="M695.49,746.65L695.49,730.36" stroke="#231f20" stroke-width="1.2" fill="none"/>
<path d="M695.49,730.36L696.69,733.56L694.29,733.56Z" fill="#231f20"/>
<rect x="640.97" y="653.04" width="79.82" height="21.07" fill="#fff"/>
<text x="651.30" y="668.70" font-family="Liberation Sans, sans-serif" font-size="14.5" word-spacing="-0.35">V<tspan font-size="9.57" dy="3.3">IN</tspan><tspan dy="-3.3"> = 3.3V</tspan></text>
<rect x="690.38" y="680.95" width="67.12" height="21.95" fill="#fff"/>
<text x="692.20" y="696.50" font-family="Liberation Sans, sans-serif" font-size="14.5" word-spacing="-0.35">V<tspan font-size="9.57" dy="3.3">IN</tspan><tspan dy="-3.3"> = 3.6V</tspan></text>
<rect x="658.35" y="751.00" width="70.59" height="19.00" fill="#fff"/>
<text x="661.10" y="767.50" font-family="Liberation Sans, sans-serif" font-size="14.5" word-spacing="-0.35">V<tspan font-size="9.57" dy="3.3">IN</tspan><tspan dy="-3.3"> = 3.0V</tspan></text>
<g>
<path d="M188.5,998.0V1181.0M214.5,998.0V1181.0M229.5,998.0V1181.0M239.5,998.0V1181.0M247.5,998.0V1181.0M254.5,998.0V1181.0M260.5,998.0V1181.0M265.5,998.0V1181.0M269.5,998.0V1181.0M273.5,998.0V1181.0M299.5,998.0V1181.0M314.5,998.0V1181.0M324.5,998.0V1181.0M333.5,998.0V1181.0M339.5,998.0V1181.0M345.5,998.0V1181.0M350.5,998.0V1181.0M354.5,998.0V1181.0M358.5,998.0V1181.0M384.5,998.0V1181.0M399.5,998.0V1181.0M410.5,998.0V1181.0M418.5,998.0V1181.0M425.5,998.0V1181.0M430.5,998.0V1181.0M435.5,998.0V1181.0M440.5,998.0V1181.0M444.5,998.0V1181.0M469.5,998.0V1181.0M484.5,998.0V1181.0M495.5,998.0V1181.0M503.5,998.0V1181.0M510.5,998.0V1181.0M516.5,998.0V1181.0M521.5,998.0V1181.0M525.5,998.0V1181.0M529.5,998.0V1181.0M188.0,998.5H530.0M188.0,1016.5H530.0M188.0,1034.5H530.0M188.0,1052.5H530.0M188.0,1071.5H530.0M188.0,1089.5H530.0M188.0,1107.5H530.0M188.0,1125.5H530.0M188.0,1144.5H530.0M188.0,1162.5H530.0M188.0,1180.5H530.0" fill="none" stroke="#231f20" stroke-width="1.0"/>
<path d="M184.9,998.5H188.5M184.9,1034.5H188.5M184.9,1071.5H188.5M184.9,1107.5H188.5M184.9,1144.5H188.5M184.9,1180.5H188.5M188.5,1180.5V1184.1M273.5,1180.5V1184.1M358.5,1180.5V1184.1M444.5,1180.5V1184.1M529.5,1180.5V1184.1" fill="none" stroke="#231f20" stroke-width="1.0"/>
<text x="178.70" y="1001.10" font-family="Liberation Sans, sans-serif" font-size="11.0" font-weight="normal" text-anchor="end" >100</text>
<text x="177.60" y="1037.10" font-family="Liberation Sans, sans-serif" font-size="11.0" font-weight="normal" text-anchor="end" >90</text>
<text x="177.60" y="1074.10" font-family="Liberation Sans, sans-serif" font-size="11.0" font-weight="normal" text-anchor="end" >80</text>
<text x="177.60" y="1110.10" font-family="Liberation Sans, sans-serif" font-size="11.0" font-weight="normal" text-anchor="end" >70</text>
<text x="177.60" y="1147.10" font-family="Liberation Sans, sans-serif" font-size="11.0" font-weight="normal" text-anchor="end" >60</text>
<text x="177.60" y="1183.10" font-family="Liberation Sans, sans-serif" font-size="11.0" font-weight="normal" text-anchor="end" >50</text>
<text x="188.40" y="1195.00" font-family="Liberation Sans, sans-serif" font-size="11.0" font-weight="normal" text-anchor="middle" >0.1</text>
<text x="273.65" y="1195.00" font-family="Liberation Sans, sans-serif" font-size="11.0" font-weight="normal" text-anchor="middle" >1</text>
<text x="358.90" y="1195.00" font-family="Liberation Sans, sans-serif" font-size="11.0" font-weight="normal" text-anchor="middle" >10</text>
<text x="444.15" y="1195.00" font-family="Liberation Sans, sans-serif" font-size="11.0" font-weight="normal" text-anchor="middle" >100</text>
<text x="529.40" y="1195.00" font-family="Liberation Sans, sans-serif" font-size="11.0" font-weight="normal" text-anchor="middle" >1000</text>
<text x="350.00" y="957.10" font-family="Liberation Sans, sans-serif" font-size="18.1" font-weight="bold" text-anchor="middle" >Efficiency vs. Load</text>
<text x="350.00" y="973.80" font-family="Liberation Sans, sans-serif" font-size="14.45" font-weight="bold" text-anchor="middle">(V<tspan font-size="9.54" dy="2.8" dx="-0.3">OUT</tspan><tspan dy="-2.8" dx="-1.2"> = 1.5V; L = 4.7</tspan><tspan font-family="Liberation Serif, serif" font-weight="normal" font-size="17.63">μ</tspan>H)</text>
<text x="358.40" y="1227.10" font-family="Liberation Sans, sans-serif" font-size="14.5" font-weight="bold" text-anchor="middle" >Output Current (mA)</text>
<text transform="translate(145.70,1089.50) rotate(-90)" font-family="Liberation Sans, sans-serif" font-size="14.5" font-weight="bold" text-anchor="middle">Efficiency (%)</text>
</g>
<g fill="none" stroke="#231f20" stroke-width="2.6" stroke-linejoin="round" stroke-linecap="butt">
<path d="M188.43,1132.33 C189.70,1130.25 193.32,1124.28 196.03,1119.84 C198.75,1115.41 201.66,1110.12 204.72,1105.72 C207.78,1101.32 211.59,1097.06 214.41,1093.44 C217.23,1089.82 219.12,1086.80 221.65,1084.03 C224.19,1081.25 226.62,1079.32 229.62,1076.79 C232.61,1074.25 236.59,1071.06 239.61,1068.82 C242.62,1066.59 245.22,1064.96 247.71,1063.39 C250.21,1061.83 252.42,1060.62 254.59,1059.41 C256.76,1058.21 258.90,1057.12 260.75,1056.15 C262.59,1055.19 264.16,1054.40 265.67,1053.62 C267.18,1052.84 268.49,1052.10 269.80,1051.45 C271.10,1050.80 271.70,1050.47 273.50,1049.73 C275.29,1048.99 278.11,1047.74 280.56,1047.01 C283.00,1046.29 284.94,1046.07 288.16,1045.38 C291.38,1044.70 295.45,1043.76 299.89,1042.89 C304.32,1042.02 310.48,1040.84 314.76,1040.17 C319.05,1039.50 322.46,1039.18 325.62,1038.87 C328.79,1038.56 332.54,1038.51 333.77,1038.33 C335.00,1038.14 328.84,1038.27 333.00,1037.78 C337.16,1037.29 352.40,1035.85 358.74,1035.39 C365.07,1034.94 366.70,1035.21 371.01,1035.07 C375.32,1034.92 379.79,1034.98 384.58,1034.52 C389.38,1034.07 395.44,1032.99 399.79,1032.35 C404.13,1031.72 407.48,1031.23 410.65,1030.72 C413.81,1030.22 416.26,1029.76 418.79,1029.31 C421.33,1028.86 423.77,1028.41 425.85,1028.01 C427.93,1027.61 429.56,1027.19 431.28,1026.92 C433.00,1026.65 434.00,1026.38 436.17,1026.38 C438.34,1026.38 441.72,1026.29 444.31,1026.92 C446.90,1027.56 448.86,1028.82 451.72,1030.18 C454.58,1031.54 458.51,1033.71 461.49,1035.07 C464.48,1036.43 466.92,1037.19 469.64,1038.33 C472.35,1039.47 475.25,1040.55 477.78,1041.91 C480.32,1043.27 482.67,1044.84 484.84,1046.47 C487.01,1048.10 489.00,1049.96 490.81,1051.68 C492.62,1053.40 494.07,1054.85 495.70,1056.79 C497.33,1058.72 498.87,1060.86 500.59,1063.30 C502.31,1065.75 504.30,1068.46 506.02,1071.45 C507.74,1074.43 510.09,1079.59 510.90,1081.22"/>
<path d="M188.43,1157.31 C189.70,1154.95 193.32,1148.08 196.03,1143.19 C198.75,1138.30 201.66,1133.26 204.72,1127.99 C207.78,1122.71 211.59,1115.91 214.41,1111.54 C217.23,1107.17 219.12,1104.78 221.65,1101.76 C224.19,1098.75 226.62,1096.46 229.62,1093.44 C232.61,1090.42 236.59,1086.38 239.61,1083.67 C242.62,1080.95 245.22,1079.02 247.71,1077.15 C250.21,1075.28 252.42,1073.89 254.59,1072.44 C256.76,1071.00 258.90,1069.67 260.75,1068.46 C262.59,1067.25 263.56,1066.47 265.67,1065.20 C267.78,1063.94 270.19,1062.43 273.42,1060.86 C276.64,1059.29 282.54,1056.78 285.00,1055.79 C287.46,1054.81 285.68,1055.59 288.16,1054.94 C290.64,1054.29 295.45,1052.90 299.89,1051.90 C304.32,1050.90 310.48,1049.69 314.76,1048.97 C319.05,1048.24 322.46,1047.92 325.62,1047.56 C328.79,1047.19 332.54,1046.98 333.77,1046.80 C335.00,1046.62 328.84,1046.89 333.00,1046.47 C337.16,1046.05 352.40,1044.75 358.74,1044.30 C365.07,1043.85 366.70,1044.12 371.01,1043.76 C375.32,1043.39 379.79,1042.85 384.58,1042.13 C389.38,1041.40 395.44,1040.14 399.79,1039.41 C404.13,1038.69 407.48,1038.24 410.65,1037.78 C413.81,1037.33 416.26,1037.15 418.79,1036.70 C421.33,1036.24 423.77,1035.47 425.85,1035.07 C427.93,1034.67 429.56,1034.58 431.28,1034.31 C433.00,1034.04 434.00,1033.67 436.17,1033.44 C438.34,1033.20 441.72,1032.71 444.31,1032.90 C446.90,1033.08 448.86,1033.98 451.72,1034.52 C454.58,1035.07 458.51,1035.52 461.49,1036.15 C464.48,1036.79 466.92,1037.51 469.64,1038.33 C472.35,1039.14 475.25,1039.95 477.78,1041.04 C480.32,1042.13 482.67,1043.48 484.84,1044.84 C487.01,1046.20 489.00,1047.83 490.81,1049.19 C492.62,1050.54 494.07,1051.63 495.70,1052.99 C497.33,1054.34 498.87,1055.79 500.59,1057.33 C502.31,1058.87 504.30,1060.50 506.02,1062.22 C507.74,1063.94 510.09,1066.74 510.90,1067.65"/>
<path d="M188.43,1169.80 C189.70,1167.35 193.32,1160.38 196.03,1155.14 C198.75,1149.89 201.66,1143.88 204.72,1138.30 C207.78,1132.73 211.59,1126.20 214.41,1121.67 C217.23,1117.15 219.12,1114.49 221.65,1111.18 C224.19,1107.86 226.62,1105.02 229.62,1101.76 C232.61,1098.51 236.59,1094.59 239.61,1091.63 C242.62,1088.67 245.22,1086.20 247.71,1084.03 C250.21,1081.86 252.42,1080.23 254.59,1078.60 C256.76,1076.97 258.90,1075.52 260.75,1074.25 C262.59,1072.99 263.56,1072.26 265.67,1071.00 C267.78,1069.73 270.19,1068.16 273.42,1066.65 C276.64,1065.14 282.54,1062.96 285.00,1061.95 C287.46,1060.94 285.68,1061.36 288.16,1060.59 C290.64,1059.82 295.45,1058.38 299.89,1057.33 C304.32,1056.28 310.48,1055.01 314.76,1054.29 C319.05,1053.57 322.46,1053.35 325.62,1052.99 C328.79,1052.62 332.54,1052.30 333.77,1052.12 C335.00,1051.94 328.84,1052.39 333.00,1051.90 C337.16,1051.41 352.40,1049.73 358.74,1049.19 C365.07,1048.64 366.70,1048.82 371.01,1048.64 C375.32,1048.46 379.79,1048.64 384.58,1048.10 C389.38,1047.56 395.44,1046.16 399.79,1045.38 C404.13,1044.61 407.48,1044.01 410.65,1043.43 C413.81,1042.85 416.26,1042.52 418.79,1041.91 C421.33,1041.29 423.77,1040.35 425.85,1039.74 C427.93,1039.12 429.56,1038.60 431.28,1038.22 C433.00,1037.84 434.00,1037.64 436.17,1037.46 C438.34,1037.28 441.72,1037.13 444.31,1037.13 C446.90,1037.13 448.86,1037.26 451.72,1037.46 C454.58,1037.66 458.51,1037.95 461.49,1038.33 C464.48,1038.71 466.92,1039.01 469.64,1039.74 C472.35,1040.46 475.25,1041.64 477.78,1042.67 C480.32,1043.70 482.67,1044.66 484.84,1045.93 C487.01,1047.19 489.00,1048.88 490.81,1050.27 C492.62,1051.67 494.07,1052.84 495.70,1054.29 C497.33,1055.74 498.87,1057.28 500.59,1058.96 C502.31,1060.64 504.30,1062.49 506.02,1064.39 C507.74,1066.29 510.09,1069.37 510.90,1070.36"/>
</g>
<path d="M262.10,1031.81L280.01,1045.93" stroke="#231f20" stroke-width="0.7" fill="none"/>
<path d="M280.01,1045.93L276.76,1044.89L278.24,1043.00Z" fill="#231f20"/>
<path d="M371.01,1029.64L376.98,1043.21" stroke="#231f20" stroke-width="0.7" fill="none"/>
<path d="M376.98,1043.21L374.59,1040.77L376.79,1039.80Z" fill="#231f20"/>
<path d="M376.98,1067.65L373.18,1052.44" stroke="#231f20" stroke-width="0.7" fill="none"/>
<path d="M373.18,1052.44L375.12,1055.26L372.79,1055.84Z" fill="#231f20"/>
<rect x="194.80" y="1007.90" width="71.60" height="22.30" fill="#fff"/>
<text x="197.20" y="1024.75" font-family="Liberation Sans, sans-serif" font-size="14.5" word-spacing="-0.35">V<tspan font-size="9.57" dy="3.3">IN</tspan><tspan dy="-3.3"> = 2.7V</tspan></text>
<rect x="305.00" y="1007.90" width="70.90" height="22.30" fill="#fff"/>
<text x="308.30" y="1024.75" font-family="Liberation Sans, sans-serif" font-size="14.5" word-spacing="-0.35">V<tspan font-size="9.57" dy="3.3">IN</tspan><tspan dy="-3.3"> = 3.6V</tspan></text>
<rect x="352.55" y="1070.90" width="72.22" height="20.09" fill="#fff"/>
<text x="355.30" y="1086.10" font-family="Liberation Sans, sans-serif" font-size="14.5" word-spacing="-0.35">V<tspan font-size="9.57" dy="3.3">IN</tspan><tspan dy="-3.3"> = 4.2V</tspan></text>
<g>
<path d="M648.5,997.0V1182.0M674.5,997.0V1182.0M689.5,997.0V1182.0M699.5,997.0V1182.0M708.5,997.0V1182.0M714.5,997.0V1182.0M720.5,997.0V1182.0M725.5,997.0V1182.0M729.5,997.0V1182.0M733.5,997.0V1182.0M759.5,997.0V1182.0M774.5,997.0V1182.0M784.5,997.0V1182.0M792.5,997.0V1182.0M799.5,997.0V1182.0M805.5,997.0V1182.0M810.5,997.0V1182.0M814.5,997.0V1182.0M818.5,997.0V1182.0M843.5,997.0V1182.0M858.5,997.0V1182.0M869.5,997.0V1182.0M877.5,997.0V1182.0M884.5,997.0V1182.0M889.5,997.0V1182.0M894.5,997.0V1182.0M899.5,997.0V1182.0M903.5,997.0V1182.0M928.5,997.0V1182.0M943.5,997.0V1182.0M954.5,997.0V1182.0M962.5,997.0V1182.0M969.5,997.0V1182.0M974.5,997.0V1182.0M979.5,997.0V1182.0M983.5,997.0V1182.0M987.5,997.0V1182.0M648.0,997.5H988.0M648.0,1028.5H988.0M648.0,1058.5H988.0M648.0,1089.5H988.0M648.0,1120.5H988.0M648.0,1151.5H988.0M648.0,1181.5H988.0" fill="none" stroke="#231f20" stroke-width="1.0"/>
<path d="M644.9,997.5H648.5M644.9,1028.5H648.5M644.9,1058.5H648.5M644.9,1089.5H648.5M644.9,1120.5H648.5M644.9,1151.5H648.5M644.9,1181.5H648.5M648.5,1181.5V1185.1M733.5,1181.5V1185.1M818.5,1181.5V1185.1M903.5,1181.5V1185.1M987.5,1181.5V1185.1" fill="none" stroke="#231f20" stroke-width="1.0"/>
<text x="640.50" y="1000.10" font-family="Liberation Sans, sans-serif" font-size="11.0" font-weight="normal" text-anchor="end" >3.0</text>
<text x="640.50" y="1031.10" font-family="Liberation Sans, sans-serif" font-size="11.0" font-weight="normal" text-anchor="end" >2.0</text>
<text x="640.50" y="1061.10" font-family="Liberation Sans, sans-serif" font-size="11.0" font-weight="normal" text-anchor="end" >1.0</text>
<text x="640.50" y="1092.10" font-family="Liberation Sans, sans-serif" font-size="11.0" font-weight="normal" text-anchor="end" >0.0</text>
<text x="640.50" y="1123.10" font-family="Liberation Sans, sans-serif" font-size="11.0" font-weight="normal" text-anchor="end" >-1.0</text>
<text x="640.50" y="1154.10" font-family="Liberation Sans, sans-serif" font-size="11.0" font-weight="normal" text-anchor="end" >-2.0</text>
<text x="640.50" y="1184.10" font-family="Liberation Sans, sans-serif" font-size="11.0" font-weight="normal" text-anchor="end" >-3.0</text>
<text x="649.50" y="1196.20" font-family="Liberation Sans, sans-serif" font-size="11.0" font-weight="normal" text-anchor="middle" >0.1</text>
<text x="730.30" y="1196.20" font-family="Liberation Sans, sans-serif" font-size="11.0" font-weight="normal" text-anchor="middle" >1</text>
<text x="815.00" y="1196.20" font-family="Liberation Sans, sans-serif" font-size="11.0" font-weight="normal" text-anchor="middle" >10</text>
<text x="901.00" y="1196.20" font-family="Liberation Sans, sans-serif" font-size="11.0" font-weight="normal" text-anchor="middle" >100</text>
<text x="985.40" y="1196.20" font-family="Liberation Sans, sans-serif" font-size="11.0" font-weight="normal" text-anchor="middle" >1000</text>
<text x="808.30" y="957.10" font-family="Liberation Sans, sans-serif" font-size="18.1" font-weight="bold" text-anchor="middle" >DC Regulation</text>
<text x="808.30" y="973.80" font-family="Liberation Sans, sans-serif" font-size="14.45" font-weight="bold" text-anchor="middle">(V<tspan font-size="9.54" dy="2.8" dx="-0.3">OUT</tspan><tspan dy="-2.8" dx="-1.2"> = 1.5V; L = 4.7</tspan><tspan font-family="Liberation Serif, serif" font-weight="normal" font-size="17.63">μ</tspan>H)</text>
<text x="816.70" y="1227.10" font-family="Liberation Sans, sans-serif" font-size="14.5" font-weight="bold" text-anchor="middle" >Output Current (mA)</text>
<text transform="translate(604.50,1089.50) rotate(-90)" font-family="Liberation Sans, sans-serif" font-size="14.5" font-weight="bold" text-anchor="middle">Output Error (%)</text>
</g>
<g fill="none" stroke="#231f20" stroke-width="1.9" stroke-linejoin="round" stroke-linecap="butt">
<path d="M648.58,1069.19 C650.70,1069.46 657.00,1070.27 661.29,1070.81 C665.58,1071.36 669.65,1072.01 674.32,1072.44 C678.99,1072.88 684.96,1073.15 689.31,1073.42 C693.65,1073.69 696.91,1073.78 700.38,1074.07 C703.86,1074.36 707.08,1074.87 710.16,1075.16 C713.24,1075.45 716.31,1075.63 718.85,1075.81 C721.38,1075.99 722.92,1076.15 725.36,1076.24 C727.81,1076.33 728.80,1076.32 733.51,1076.35 C738.21,1076.39 750.02,1076.37 753.60,1076.46 C757.18,1076.56 750.24,1076.83 755.00,1076.92 C759.76,1077.02 771.56,1076.83 782.15,1077.03 C792.74,1077.23 808.25,1077.74 818.53,1078.12 C828.81,1078.50 837.08,1078.86 843.83,1079.31 C850.58,1079.76 854.66,1080.40 859.04,1080.83 C863.42,1081.27 868.29,1081.84 870.11,1081.92 C871.94,1081.99 867.30,1080.82 870.00,1081.29 C872.70,1081.76 880.86,1083.46 886.29,1084.76 C891.72,1086.07 897.69,1087.15 902.58,1089.11 C907.47,1091.06 911.27,1094.00 915.61,1096.49 C919.95,1098.99 925.02,1101.56 928.64,1104.10 C932.26,1106.63 934.80,1109.16 937.33,1111.70 C939.86,1114.23 941.86,1116.76 943.85,1119.30 C945.84,1121.83 947.59,1124.55 949.28,1126.90 C950.96,1129.25 952.32,1131.06 953.95,1133.42 C955.57,1135.77 957.71,1138.67 959.05,1141.02 C960.39,1143.37 961.08,1145.18 961.98,1147.53 C962.89,1149.89 963.70,1152.60 964.48,1155.14 C965.26,1157.67 966.02,1160.38 966.65,1162.74 C967.29,1165.09 968.01,1168.17 968.28,1169.25"/>
<path d="M648.58,1077.55 C652.87,1077.60 663.15,1077.80 674.32,1077.87 C685.49,1077.95 707.08,1077.95 715.59,1077.98 C724.10,1078.02 722.38,1078.07 725.36,1078.09 C728.35,1078.11 728.80,1078.09 733.51,1078.09 C738.21,1078.09 750.02,1078.01 753.60,1078.09 C757.18,1078.17 750.24,1078.49 755.00,1078.55 C759.76,1078.61 771.56,1078.35 782.15,1078.44 C792.74,1078.53 808.25,1078.81 818.53,1079.10 C828.81,1079.38 837.08,1079.76 843.83,1080.18 C850.58,1080.60 854.66,1081.18 859.04,1081.59 C863.42,1082.01 868.29,1082.58 870.11,1082.68 C871.94,1082.77 867.30,1081.70 870.00,1082.16 C872.70,1082.61 880.86,1084.20 886.29,1085.42 C891.72,1086.63 897.69,1087.50 902.58,1089.43 C907.47,1091.37 911.27,1094.32 915.61,1097.04 C919.95,1099.75 925.02,1102.92 928.64,1105.72 C932.26,1108.53 934.80,1111.06 937.33,1113.87 C939.86,1116.67 941.86,1119.48 943.85,1122.56 C945.84,1125.63 947.59,1129.25 949.28,1132.33 C950.96,1135.41 952.50,1138.30 953.95,1141.02 C955.39,1143.73 956.62,1146.00 957.96,1148.62 C959.30,1151.24 960.71,1154.23 961.98,1156.76 C963.25,1159.30 964.52,1161.47 965.57,1163.82 C966.62,1166.18 967.83,1169.71 968.28,1170.88"/>
<path d="M648.58,1078.52 C652.87,1078.67 663.15,1079.23 674.32,1079.39 C685.49,1079.56 707.08,1079.43 715.59,1079.50 C724.10,1079.57 722.38,1079.77 725.36,1079.83 C728.35,1079.88 728.80,1079.83 733.51,1079.83 C738.21,1079.83 750.02,1079.79 753.60,1079.83 C757.18,1079.87 750.24,1080.07 755.00,1080.07 C759.76,1080.08 771.56,1079.86 782.15,1079.86 C792.74,1079.86 808.25,1079.87 818.53,1080.07 C828.81,1080.27 837.08,1080.69 843.83,1081.05 C850.58,1081.41 854.66,1081.86 859.04,1082.24 C863.42,1082.62 868.29,1083.20 870.11,1083.33 C871.94,1083.46 867.30,1082.57 870.00,1083.03 C872.70,1083.48 880.86,1084.95 886.29,1086.07 C891.72,1087.19 897.69,1087.84 902.58,1089.76 C907.47,1091.68 911.27,1094.74 915.61,1097.58 C919.95,1100.42 925.02,1103.82 928.64,1106.81 C932.26,1109.80 934.80,1112.51 937.33,1115.50 C939.86,1118.48 941.86,1121.47 943.85,1124.73 C945.84,1127.99 947.59,1131.79 949.28,1135.05 C950.96,1138.30 952.50,1141.29 953.95,1144.28 C955.39,1147.26 956.75,1150.25 957.96,1152.96 C959.18,1155.68 960.14,1158.48 961.22,1160.57 C962.31,1162.65 963.30,1163.82 964.48,1165.45 C965.66,1167.08 967.65,1169.52 968.28,1170.34"/>
</g>
<path d="M671.82,1040.95L667.26,1069.19" stroke="#231f20" stroke-width="0.6" fill="none"/>
<path d="M667.26,1069.19L666.59,1065.84L668.96,1066.22Z" fill="#231f20"/>
<path d="M698.76,1065.17L680.84,1075.70" stroke="#231f20" stroke-width="0.6" fill="none"/>
<path d="M680.84,1075.70L682.99,1073.05L684.20,1075.11Z" fill="#231f20"/>
<path d="M685.72,1103.39L688.66,1080.59" stroke="#231f20" stroke-width="0.6" fill="none"/>
<path d="M688.66,1080.59L689.44,1083.92L687.06,1083.61Z" fill="#231f20"/>
<rect x="659.12" y="1013.80" width="71.13" height="22.26" fill="#fff"/>
<text x="661.80" y="1029.50" font-family="Liberation Sans, sans-serif" font-size="14.5" word-spacing="-0.35">V<tspan font-size="9.57" dy="3.3">IN</tspan><tspan dy="-3.3"> = 4.2V</tspan></text>
<rect x="700.93" y="1043.67" width="71.47" height="22.43" fill="#fff"/>
<text x="704.20" y="1059.40" font-family="Liberation Sans, sans-serif" font-size="14.5" word-spacing="-0.35">V<tspan font-size="9.57" dy="3.3">IN</tspan><tspan dy="-3.3"> = 3.6V</tspan></text>
<rect x="659.12" y="1103.94" width="71.13" height="21.72" fill="#fff"/>
<text x="661.80" y="1119.10" font-family="Liberation Sans, sans-serif" font-size="14.5" word-spacing="-0.35">V<tspan font-size="9.57" dy="3.3">IN</tspan><tspan dy="-3.3"> = 2.7V</tspan></text>
</svg>
</body>
</html>
